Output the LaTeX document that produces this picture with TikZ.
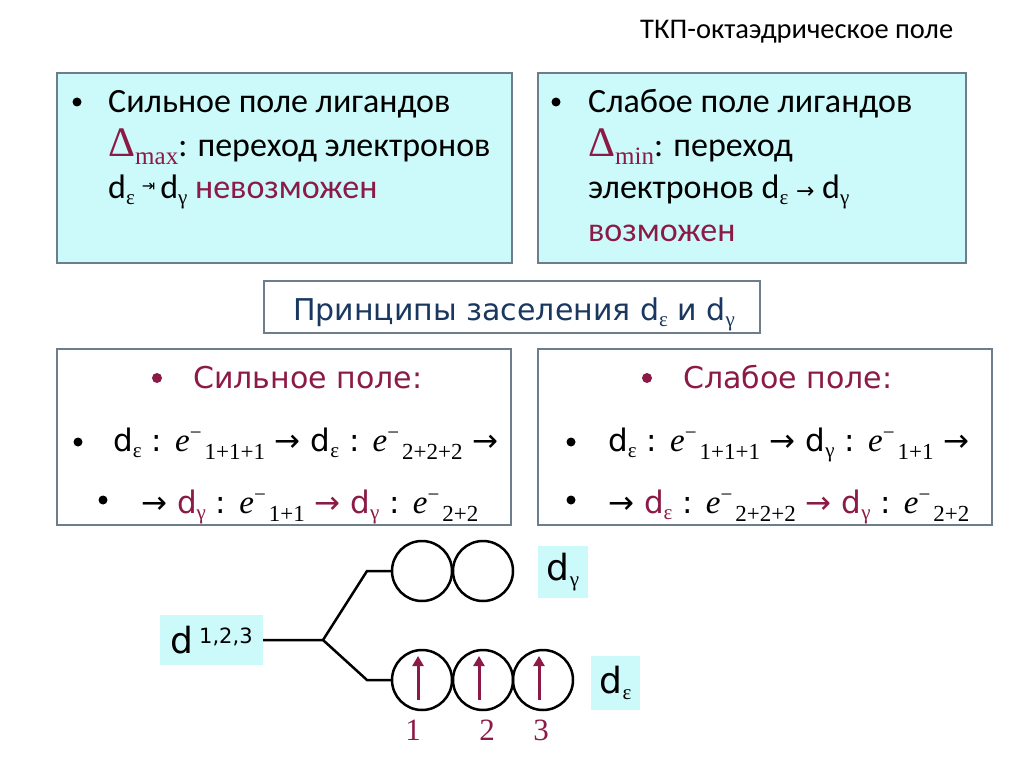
\documentclass[tikz,border=0pt]{standalone}
\usepackage{fontspec}
\setmainfont{Carlito}
\newfontfamily\tms{Liberation Serif}
\newfontfamily\tah{DejaVu Sans}
\definecolor{cyanbox}{RGB}{204,250,250}
\definecolor{mar}{RGB}{140,26,70}
\definecolor{bordc}{RGB}{110,125,140}
\definecolor{navyt}{RGB}{25,55,95}
\newcommand\fs[1]{\fontsize{#1}{#1}\selectfont}
\newcommand\lo[3]{\raisebox{-#2pt}{\tms\fs{#1}#3}}
\newcommand\dd[1]{d\lo{21}{6}{#1}}
\newcommand\ee[1]{{\tms\fs{33}\itshape e}\raisebox{12pt}{\tms\fs{21}−}\hspace{3pt}\lo{23}{8}{#1}}
\tikzset{
  panel/.style={draw=bordc, line width=1.5pt, inner sep=0pt},
  cpanel/.style={panel, fill=cyanbox},
  txt/.style={anchor=base west, inner sep=0pt, font=\fs{34}},
  mtxt/.style={anchor=base west, inner sep=0pt, font=\tah\fs{31}},
  lbl/.style={fill=cyanbox, inner sep=0pt, font=\tah\fs{36}},
  orb/.style={circle, draw=black, line width=2.5pt, minimum size=60pt, inner sep=0pt},
  link/.style={line width=2.5pt, black},
  spin/.style={line width=3pt, mar, -{Triangle[length=10pt,width=11pt]}},
  num/.style={font=\tms\fs{31}, text=mar, inner sep=0pt},
}
\usetikzlibrary{arrows.meta}
\begin{document}
\begin{tikzpicture}[x=1pt,y=-1pt]
\useasboundingbox (0,0) rectangle (1024,767);
% title
\node[anchor=base west, inner sep=0pt, font=\fs{28.5}] (title) at (640,39) {ТКП-октаэдрическое поле};
% box 1
\node[cpanel, minimum width=455pt, minimum height=190pt] (b1) at (284.5,168) {};
\fill (77,102) circle (4.5);
\node[txt] (b1l1) at (108,113) {Сильное поле лигандов};
\node[txt] (b1l2) at (108,157) {\textcolor{mar}{\tms\fs{42}Δ\lo{25}{8}{max}}: переход электронов};
\node[txt] (b1l3) at (108,199) {\dd{ε}\hspace{7pt}\raisebox{7pt}{\tah\fs{16}⇥}\hspace{5pt}\dd{γ} \textcolor{mar}{невозможен}};
% box 2
\node[cpanel, minimum width=428pt, minimum height=190pt] (b2) at (752,168) {};
\fill (556,102) circle (4.5);
\node[txt] (b2l1) at (588,113) {Слабое поле лигандов};
\node[txt] (b2l2) at (588,157) {\textcolor{mar}{\tms\fs{42}Δ\lo{25}{8}{min}}: переход};
\node[txt] (b2l3) at (588,199) {электронов \dd{ε} {\tah\fs{22}→} \dd{γ}};
\node[txt] (b2l4) at (588,241) {\textcolor{mar}{возможен}};
% box 3
\node[panel, fill=white, minimum width=496pt, minimum height=52pt] (b3) at (512,307) {};
\node[anchor=base, inner sep=0pt, font=\tah\fs{30}, text=navyt] (b3t) at (514,320) {Принципы заселения \dd{ε} и \dd{γ}};
% box 4
\node[panel, fill=white, minimum width=454pt, minimum height=176pt] (b4) at (284,437) {};
\fill[mar] (157,378) circle (5);
\node[mtxt, text=mar, font=\tah\fs{30}] (b4l1) at (193,388) {Сильное поле:};
\fill (78,442) circle (4.5);
\node[mtxt] (b4l2) at (113,451) {\dd{ε} : \ee{1+1+1} → \dd{ε} : \ee{2+2+2} →};
\fill (103,500) circle (4.5);
\node[mtxt] (b4l3) at (141,513) {→ \textcolor{mar}{\dd{γ}} : \ee{1+1} \textcolor{mar}{→ \dd{γ}} : \ee{2+2}};
% box 5
\node[panel, fill=white, minimum width=454pt, minimum height=176pt] (b5) at (765,437) {};
\fill[mar] (647,378) circle (5);
\node[mtxt, text=mar, font=\tah\fs{30}] (b5l1) at (683,388) {Слабое поле:};
\fill (571,442) circle (4.5);
\node[mtxt] (b5l2) at (608,451) {\dd{ε} : \ee{1+1+1} → \dd{γ} : \ee{1+1} →};
\fill (571,500) circle (4.5);
\node[mtxt] (b5l3) at (608,513) {→ \textcolor{mar}{\dd{ε}} : \ee{2+2+2} \textcolor{mar}{→ \dd{γ}} : \ee{2+2}};
% diagram
\node[lbl, minimum width=103pt, minimum height=50pt] (d123) at (211.5,640) {d\hspace{6pt}\raisebox{10pt}{\fs{21}\tah 1,2,3}\hspace{8pt}};
\coordinate (br) at (323,640);
\coordinate (up) at (367,571);
\coordinate (lo) at (367,680);
\node[orb] (g1) at (422,571) {};
\node[orb] (g2) at (483,571) {};
\node[orb] (e1) at (422,680) {};
\node[orb] (e2) at (483,680) {};
\node[orb] (e3) at (543,680) {};
\draw[link] (d123.east) -- (br) -- (up) -- (g1.west);
\draw[link] (br) -- (lo) -- (e1.west);
\foreach \c in {e1,e2,e3}
  \draw[spin] ([xshift=-4pt,yshift=-20pt]\c.center) -- ([xshift=-4pt,yshift=24pt]\c.center);
\node[lbl, minimum width=50pt, minimum height=52pt] (dg) at (563,572) {\dd{γ}};
\node[lbl, minimum width=49pt, minimum height=54pt] (de) at (615.5,683) {\dd{ε}};
\node[num] (n1) at (413,730) {1};
\node[num] (n2) at (487,730) {2};
\node[num] (n3) at (541,730) {3};
\end{tikzpicture}
\end{document}
